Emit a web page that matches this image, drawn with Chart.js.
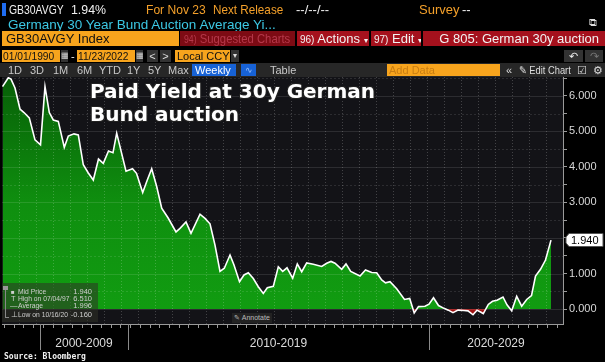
<!DOCTYPE html>
<html><head><meta charset="utf-8">
<script src="https://cdn.jsdelivr.net/npm/chart.js@4.4.0/dist/chart.umd.min.js"></script>
<style>
html,body{margin:0;padding:0;background:#000;}
#wrap{position:relative;width:605px;height:362px;overflow:hidden;background:#000;font-family:"Liberation Sans",Arial,sans-serif;}
#c{position:absolute;left:0;top:0;}
.t{position:absolute;white-space:nowrap;line-height:1;}
.n{display:inline-block;transform-origin:0 50%;}
.box{position:absolute;white-space:nowrap;overflow:hidden;box-sizing:border-box;}
.or{color:#f4a02a;}
.wh{color:#f0f0f0;}
.r1{top:3px;font-size:13px;}
.row3{top:31px;height:15px;font-size:13px;line-height:15px;}
.row4{top:50px;height:12px;font-size:11px;line-height:12px;}
.ob{background:#f7a41d;color:#111;}
.rb{background:#a5111d;color:#f2f2f2;}
.gb{background:#333;color:#ddd;text-align:center;}
#tb{position:absolute;left:0;top:63px;width:605px;height:14px;background:#272727;}
.r5{top:65px;font-size:11px;color:#c8c8c8;}
#title{position:absolute;left:90px;top:80px;font-family:"DejaVu Sans",Verdana,sans-serif;font-weight:bold;font-size:20px;line-height:23px;color:#fff;
 text-shadow:-1px -1px 0 #222,1px -1px 0 #222,-1px 1px 0 #222,1px 1px 0 #222,0 0 2px #000;}
#leg{position:absolute;left:2px;top:283px;width:96px;height:39px;background:rgba(48,50,38,0.55);}
.lg{position:absolute;font-size:7.5px;color:#cfcfcf;line-height:1;white-space:nowrap;}
.lv{position:absolute;font-size:7.5px;color:#cfcfcf;line-height:1;white-space:nowrap;right:513px;text-align:right;}
#src{position:absolute;left:4px;top:352px;font-family:"DejaVu Sans Mono",monospace;font-weight:bold;font-size:8px;color:#f0f0f0;}
#ann{position:absolute;left:232px;top:313px;width:40px;height:10px;background:#222;color:#bbb;font-size:7px;line-height:10px;text-align:center;white-space:nowrap;}
</style></head>
<body>
<div id="wrap">
<canvas id="c" width="605" height="362"></canvas>

<!-- header row 1 -->
<div class="box" style="left:2px;top:3px;width:4px;height:13px;background:#1f6cf0;"></div>
<div class="t r1 wh" style="left:9px;"><span class="n" style="transform:scaleX(0.8)">GB30AVGY</span></div>
<div class="t r1 wh" style="left:71px;"><span class="n" style="transform:scaleX(0.95)">1.94%</span></div>
<div class="t r1 or" style="left:146px;"><span class="n" style="transform:scaleX(0.93)">For Nov 23</span></div>
<div class="t r1 or" style="left:213px;"><span class="n" style="transform:scaleX(0.9)">Next Release</span></div>
<div class="t r1 wh" style="left:296px;">--/--/--</div>
<div class="t r1 or" style="left:419px;">Survey</div>
<div class="t r1 wh" style="left:462px;">--</div>
<!-- row 2 -->
<div class="t" style="left:8px;top:18px;font-size:13.5px;color:#3cc8e4;">Germany 30 Year Bund Auction Average Yi...</div>
<div class="t" style="left:589px;top:17px;font-size:11px;color:#ddd;">&#x29C9;</div>
<!-- row 3 -->
<div class="box row3 ob" style="left:2px;width:177px;padding-left:4px;">GB30AVGY Index</div>
<div class="box row3" style="left:180px;width:115px;background:#7d0b14;color:#b5384a;padding-left:4px;"><span class="n" style="transform:scaleX(0.87)"><span style="font-size:10px">94)</span> Suggested Charts</span></div>
<div class="box row3 rb" style="left:297px;width:72px;padding-left:3px;"><span style="font-size:10px">96)</span> Actions <span style="font-size:8px">&#9662;</span></div>
<div class="box row3 rb" style="left:371px;width:50px;padding-left:3px;"><span style="font-size:10px">97)</span> Edit <span style="font-size:8px">&#9662;</span></div>
<div class="box row3 rb" style="left:423px;width:182px;text-align:right;padding-right:6px;">G 805: German 30y auction</div>
<!-- row 4 -->
<div class="box row4 ob" style="left:2px;width:58px;padding-left:1px;"><span class="n" style="transform:scaleX(0.93)">01/01/1990</span></div>
<div class="box row4 gb" style="left:61px;width:7px;font-size:8px;">&#9638;</div>
<div class="t row4 wh" style="left:71px;">-</div>
<div class="box row4 ob" style="left:77px;width:58px;padding-left:1px;"><span class="n" style="transform:scaleX(0.93)">11/23/2022</span></div>
<div class="box row4 gb" style="left:136px;width:7px;font-size:8px;">&#9638;</div>
<div class="box row4 gb" style="left:147px;width:11px;">&lt;</div>
<div class="box row4 gb" style="left:160px;width:11px;">&gt;</div>
<div class="box row4 ob" style="left:175px;width:55px;padding-left:2px;">Local CCY</div>
<div class="box row4 gb" style="left:231px;width:8px;font-size:8px;">&#9662;</div>
<div class="box row4 gb" style="left:564px;width:19px;color:#eee;">&#8630;</div>
<div class="box row4 gb" style="left:585px;width:18px;color:#777;">&#8631;</div>
<!-- row 5 toolbar -->
<div id="tb"></div>
<div class="t r5" style="left:8px;">1D</div>
<div class="t r5" style="left:30px;">3D</div>
<div class="t r5" style="left:53px;">1M</div>
<div class="t r5" style="left:77px;">6M</div>
<div class="t r5" style="left:99px;">YTD</div>
<div class="t r5" style="left:127px;">1Y</div>
<div class="t r5" style="left:148px;">5Y</div>
<div class="t r5" style="left:168px;">Max</div>
<div class="box" style="left:192px;top:64px;width:44px;height:12px;background:#1762d6;color:#fff;font-size:11px;line-height:12px;padding-left:3px;">Weekly <span style="font-size:9px">&#9660;</span></div>
<div class="box" style="left:241px;top:64px;width:15px;height:12px;background:#1762d6;color:#9cc4ff;font-size:9px;line-height:12px;text-align:center;">&#8767;</div>
<div class="t r5" style="left:270px;">Table</div>
<div class="box" style="left:387px;top:64px;width:113px;height:12px;background:#f7a41d;color:#c87d12;font-size:11px;line-height:12px;padding-left:2px;">Add Data</div>
<div class="t r5" style="left:506px;color:#ddd;">&#171;</div>
<div class="t r5" style="left:519px;color:#ddd;"><span class="n" style="transform:scaleX(0.85)">&#9998; Edit Chart</span></div>
<div class="t r5" style="left:577px;color:#ddd;">&#9745;</div>
<div class="t r5" style="left:593px;color:#ddd;">&#9881;</div>

<!-- overlays -->
<div id="title">Paid Yield at 30y German<br>Bund auction</div>
<div id="leg"></div>
<div class="box" style="left:5px;top:288px;width:1px;height:30px;background:#888;"></div>
<div class="box" style="left:5px;top:317px;width:4px;height:1px;background:#888;"></div>
<div class="box" style="left:3px;top:286px;width:5px;height:4px;background:#999;"></div>
<div class="lg" style="left:11px;top:289px;font-size:6px;">&#9632;</div>
<div class="lg" style="left:18px;top:288px;"><span class="n" style="transform:scaleX(0.9)">Mid Price</span></div>
<div class="lv" style="top:288px;">1.940</div>
<div class="lg" style="left:11px;top:295px;">T</div>
<div class="lg" style="left:18px;top:295px;"><span class="n" style="transform:scaleX(0.9)">High on 07/04/97</span></div>
<div class="lv" style="top:295px;">6.510</div>
<div class="lg" style="left:10px;top:302px;">&#8212;</div>
<div class="lg" style="left:18px;top:302px;"><span class="n" style="transform:scaleX(0.9)">Average</span></div>
<div class="lv" style="top:302px;">1.996</div>
<div class="lg" style="left:11px;top:311px;">&#8869;</div>
<div class="lg" style="left:18px;top:311px;"><span class="n" style="transform:scaleX(0.9)">Low on 10/16/20</span></div>
<div class="lv" style="top:311px;">-0.160</div>
<div id="ann">&#9998; Annotate</div>
<div id="src">Source: Bloomberg</div>
</div>

<script>
// x position of each auction along the chart's observation axis (Bloomberg collapses gaps)
const obsIndex = [0.5,6.3,9,13,18,22,27.3,33,38.5,43,47.3,51.3,56.3,62.3,66.3,72,76.3,81.3,86.3,91.3,
 96.5,101.3,106.5,111,114.7,124,130.5,134.5,140.7,145.3,149.7,154.7,159.7,166,174,178,184,189,198,203,
 208,213,218,222.3,228,232,237.5,242,246.3,251.3,256.3,261.3,265.3,271.3,276.3,280.7,285,290.7,295.3,299.7,
 304.7,311.3,319.7,324.7,329,333,339.7,344,348.7,358,363.5,369.7,374.7,379.7,383.5,388,394.7,402.5,407.7,412.2,
 416.5,423,427,431.5,436.5,442,446.3,451,456,462,466,471,475,479,481.3,486.3,490.5,495,501,505,
 509.7,514.7,519.7,524.7,529.5,533.5,538.5,543.5,549];
// average paid yield, %
const yieldPct = [6.26,6.51,6.47,6.22,5.63,5.53,5.38,4.76,4.62,6.26,5.53,5.32,5.28,4.55,4.87,4.93,4.90,4.06,3.83,3.63,
 4.22,4.10,4.45,4.40,4.95,3.88,3.95,3.82,3.28,3.63,3.95,3.45,2.84,2.57,2.17,2.27,2.45,2.13,2.67,2.55,
 2.40,1.80,1.06,1.15,1.52,1.24,0.77,0.96,1.02,0.86,0.63,0.44,0.60,0.64,1.19,1.06,1.16,0.87,1.27,1.05,
 1.30,1.26,1.20,1.29,1.34,1.29,1.12,1.27,1.06,0.93,1.10,1.03,1.02,0.82,0.74,0.77,0.57,0.27,0.30,-0.11,
 0.07,0.08,0.14,0.32,0.10,0.02,-0.03,-0.10,-0.03,-0.04,-0.05,-0.16,-0.03,-0.09,-0.13,0.13,0.22,0.25,0.34,0.12,
 -0.05,0.36,0.08,0.27,0.38,0.93,1.12,1.38,1.94];
const yTickValues = [0,1,2,3,4,5,6];
const yGridValues = [0,0.5,1,1.5,2,2.5,3,3.5,4,4.5,5,5.5,6,6.5];
const decadeLabels = ['2000-2009','2010-2019','2020-2029'];
const decadeBounds = [38,126,427,561];
const xMinorStep = 9.7;
const xGridStep = 17;
const lastLabel = '1.940';

const canvas = document.getElementById('c');
const ctx0 = canvas.getContext('2d');
const grad = ctx0.createLinearGradient(0, 77, 0, 309);
grad.addColorStop(0, '#075f07');
grad.addColorStop(0.55, '#0f8f0f');
grad.addColorStop(1, '#119c11');

const deco = {
  id: 'deco',
  beforeDraw(chart) {
    const c = chart.ctx, a = chart.chartArea;
    c.save();
    c.fillStyle = '#000';
    c.fillRect(0, 0, chart.width, chart.height);
    c.fillStyle = '#131317';
    c.fillRect(a.left, a.top, a.right - a.left, a.bottom - a.top);
    c.restore();
  },
  beforeDatasetDraw(chart) {
    const c = chart.ctx, a = chart.chartArea, x = chart.scales.x, y = chart.scales.y;
    c.save();
    c.beginPath(); c.rect(a.left, a.top, a.right - a.left, a.bottom - a.top); c.clip();
    c.lineWidth = 1;
    yGridValues.forEach(v => {
      const py = Math.round(y.getPixelForValue(v)) + 0.5;
      c.strokeStyle = 'rgba(255,255,255,0.11)';
      c.setLineDash(v % 1 === 0 ? [] : [2, 2]);
      c.beginPath(); c.moveTo(a.left, py); c.lineTo(a.right, py); c.stroke();
    });
    c.setLineDash([1, 2]);
    c.strokeStyle = 'rgba(255,255,255,0.2)';
    for (let v = xGridStep; v < x.max; v += xGridStep) {
      const px = Math.round(x.getPixelForValue(v)) + 0.5;
      c.beginPath(); c.moveTo(px, a.top); c.lineTo(px, a.bottom); c.stroke();
    }
    c.restore();
  },
  afterDraw(chart) {
    const c = chart.ctx, a = chart.chartArea, x = chart.scales.x, y = chart.scales.y;
    c.save();
    c.strokeStyle = '#9a9a9a'; c.lineWidth = 1;
    c.beginPath(); c.moveTo(a.left, a.bottom + 0.5); c.lineTo(a.right, a.bottom + 0.5); c.stroke();
    for (let v = 2; v < x.max; v += xMinorStep) {
      const px = Math.round(x.getPixelForValue(v)) + 0.5;
      c.beginPath(); c.moveTo(px, a.bottom); c.lineTo(px, a.bottom + 4); c.stroke();
    }
    c.strokeStyle = '#8a8a8a';
    decadeBounds.slice(0, 3).forEach(v => {
      const px = Math.round(x.getPixelForValue(v)) + 0.5;
      c.beginPath(); c.moveTo(px, a.bottom); c.lineTo(px, a.bottom + 26); c.stroke();
    });
    c.fillStyle = '#dcdcdc';
    c.font = '12px "Liberation Sans", Arial, sans-serif';
    c.textAlign = 'center'; c.textBaseline = 'middle';
    decadeLabels.forEach((lab, i) => {
      const px = (x.getPixelForValue(decadeBounds[i]) + x.getPixelForValue(decadeBounds[i + 1])) / 2;
      c.fillText(lab, px, a.bottom + 20);
    });
    const last = yieldPct[yieldPct.length - 1];
    const py = Math.round(y.getPixelForValue(last));
    const bx = a.right + 3;
    c.fillStyle = '#fff';
    c.strokeStyle = '#555';
    c.beginPath();
    c.moveTo(bx, py - 3); c.lineTo(bx + 3, py - 6.5); c.lineTo(bx + 37, py - 6.5);
    c.lineTo(bx + 37, py + 6.5); c.lineTo(bx + 3, py + 6.5); c.lineTo(bx, py + 3); c.closePath();
    c.fill(); c.stroke();
    c.fillStyle = '#000';
    c.font = '11px "Liberation Sans", Arial, sans-serif';
    c.textAlign = 'left';
    c.fillText(lastLabel, bx + 5, py + 0.5);
    c.restore();
  }
};

new Chart(canvas, {
  type: 'line',
  data: {
    datasets: [{
      data: obsIndex.map((v, i) => ({ x: v, y: yieldPct[i] })),
      borderColor: '#ffffff',
      borderWidth: 1.6,
      pointRadius: 0,
      tension: 0,
      fill: { target: { value: 0 }, above: grad, below: '#a01414' }
    }]
  },
  options: {
    responsive: false,
    animation: false,
    devicePixelRatio: 1,
    layout: { padding: { top: 77, left: 2, right: 0, bottom: 38 } },
    plugins: { legend: { display: false }, tooltip: { enabled: false } },
    scales: {
      x: { type: 'linear', min: 0, max: 561, display: false },
      y: {
        position: 'right', min: -0.42, max: 6.53,
        afterBuildTicks: s => { s.ticks = yGridValues.map(v => ({ value: v })); },
        afterFit: s => { s.width = 42; s.paddingTop = 0; s.paddingBottom = 0; },
        ticks: {
          autoSkip: false, color: '#d8d8d8', padding: 2,
          font: { size: 11, family: '"Liberation Sans", Arial, sans-serif' },
          callback: v => yTickValues.includes(v) ? v.toFixed(3) : ''
        },
        grid: { drawOnChartArea: false, drawTicks: true, tickLength: 4, color: '#9a9a9a' },
        border: { display: true, color: '#9a9a9a' }
      }
    }
  },
  plugins: [deco]
});
</script>
</body></html>
